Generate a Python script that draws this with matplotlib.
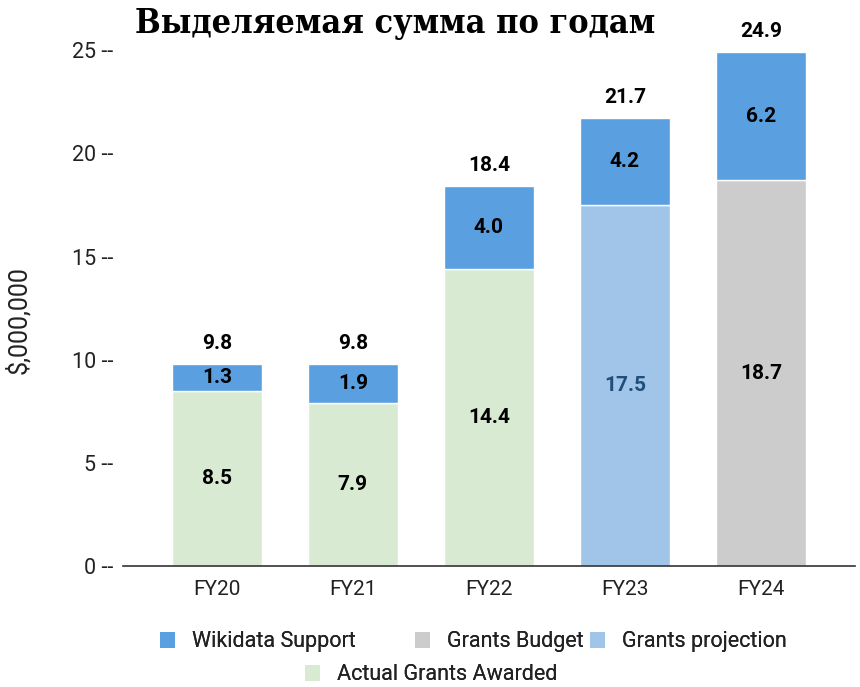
import matplotlib
matplotlib.use("Agg")
import matplotlib.pyplot as plt
from matplotlib.patches import Patch

plt.rcParams['font.family'] = ['Roboto', 'DejaVu Sans']

categories = ["FY20", "FY21", "FY22", "FY23", "FY24"]
actual_awarded = [8.5, 7.9, 14.4, 0, 0]
grants_projection = [0, 0, 0, 17.5, 0]
grants_budget = [0, 0, 0, 0, 18.7]
wikidata_support = [1.3, 1.9, 4.0, 4.2, 6.2]
totals = [9.8, 9.8, 18.4, 21.7, 24.9]
yticks = [0, 5, 10, 15, 20, 25]

c_wiki = "#5a9fe0"
c_budget = "#cccccc"
c_proj = "#a0c5e9"
c_actual = "#d9ead3"

fig = plt.figure(figsize=(8.6, 6.87), dpi=100)
ax = fig.add_axes([0.143, 0.176, 0.851, 0.751])

x = list(range(len(categories)))
w = 0.66
base = [a + p + b for a, p, b in zip(actual_awarded, grants_projection, grants_budget)]
ax.bar(x, actual_awarded, w, color=c_actual, edgecolor="white", linewidth=1)
ax.bar(x, grants_projection, w, color=c_proj, edgecolor="white", linewidth=1)
ax.bar(x, grants_budget, w, color=c_budget, edgecolor="white", linewidth=1)
ax.bar(x, wikidata_support, w, bottom=base, color=c_wiki, edgecolor="white", linewidth=1)

for i in x:
    lower = base[i]
    col = "#1f4e79" if grants_projection[i] > 0 else "black"
    ax.text(i, lower / 2, f"{lower:.1f}", ha="center", va="center",
            fontsize=15, fontweight="bold", color=col)
    ax.text(i, lower + wikidata_support[i] / 2, f"{wikidata_support[i]:.1f}",
            ha="center", va="center", fontsize=15, fontweight="bold", color="black")
    ax.annotate(f"{totals[i]:.1f}", (i, lower + wikidata_support[i]),
                xytext=(0, 8), textcoords="offset points", ha="center", va="bottom",
                fontsize=15, fontweight="bold", color="black", annotation_clip=False)

ax.set_xlim(-0.69, 4.69)
ax.set_ylim(0, 25)
ax.set_yticks(yticks)
ax.set_yticklabels([f"{t} --" for t in yticks], fontsize=15.5, color="#222222")
ax.set_xticks(x)
ax.set_xticklabels(categories, fontsize=15, color="#222222")
ax.tick_params(axis="y", length=0, pad=7)
ax.tick_params(axis="x", length=0, pad=10)
for s in ["top", "right", "left"]:
    ax.spines[s].set_visible(False)
ax.spines["bottom"].set_color("#333333")
ax.spines["bottom"].set_linewidth(1.2)

ax.set_ylabel("$,000,000", fontsize=18, color="#222222")
ax.yaxis.set_label_coords(-0.126, 0.477)

fig.text(0.459, 0.966, "Выделяемая сумма по годам", ha="center", va="center",
         fontsize=24.5, fontweight="bold", family=["DejaVu Serif"], fontstretch="condensed")

entries = [
    (c_wiki, "Wikidata Support", 160, 642),
    (c_budget, "Grants Budget", 415, 642),
    (c_proj, "Grants projection", 590, 642),
    (c_actual, "Actual Grants Awarded", 305, 675),
]
for colr, lab, px, py in entries:
    lg = fig.legend([Patch(facecolor=colr)], [lab], loc="center left",
                    bbox_to_anchor=(px / 860, 1 - py / 687), frameon=False,
                    fontsize=15.5, handlelength=0.7, handleheight=0.7,
                    handletextpad=0.8, borderpad=0, borderaxespad=0)
    for t in lg.get_texts():
        t.set_color("#222222")
    fig.add_artist(lg)

fig.savefig("out.png", dpi=100)
